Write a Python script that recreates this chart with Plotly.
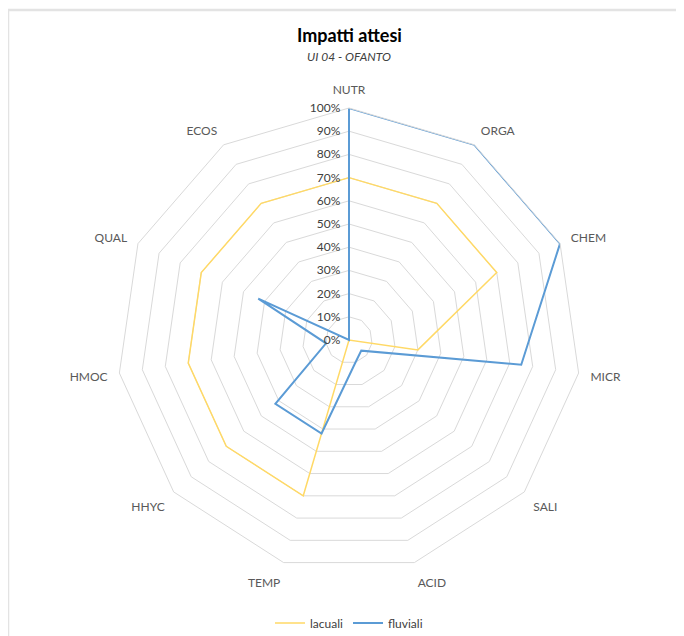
import plotly.graph_objects as go

categories = ["NUTR", "ORGA", "CHEM", "MICR", "SALI", "ACID", "TEMP", "HHYC", "HMOC", "QUAL", "ECOS"]
lacuali = [70, 70, 70, 30, 0, 0, 70, 70, 70, 70, 70]
fluviali = [100, 100, 100, 75, 7, 10, 42, 42, 10, 43, 0]
radial_ticks = [0, 10, 20, 30, 40, 50, 60, 70, 80, 90, 100]
radial_labels = ["0%", "10%", "20%", "30%", "40%", "50%", "60%", "70%", "80%", "90%", "100%"]

W, H = 684, 636
OFF = 8  # page body margin compensation
CX, CY, R = 349 - OFF, 340 - OFF, 232
L, T = CX - R, CY - R
Rm, B = W - (CX + R), H - (CY + R)
PW, PH = 2 * R, 2 * R

def px(x):
    return (x - OFF - L) / PW

def py(y):
    return (H - B - (y - OFF)) / PH

fig = go.Figure()
fig.add_trace(go.Scatterpolar(
    r=lacuali + lacuali[:1], theta=categories + categories[:1],
    mode="lines", name="lacuali",
    line=dict(color="#FFD966", width=1.5),
))
fig.add_trace(go.Scatterpolar(
    r=fluviali + fluviali[:1], theta=categories + categories[:1],
    mode="lines", name="fluviali",
    line=dict(color="#5B9BD5", width=2),
))

font_family = "Lato, 'Open Sans', sans-serif"

fig.update_layout(
    width=W, height=H,
    margin=dict(l=L, r=Rm, t=T, b=B, pad=0, autoexpand=False),
    paper_bgcolor="white",
    plot_bgcolor="white",
    font=dict(family=font_family, color="#595959", size=12),
    polar=dict(
        domain=dict(x=[0, 1], y=[0, 1]),
        bgcolor="white",
        gridshape="linear",
        angularaxis=dict(
            direction="clockwise", rotation=90,
            showgrid=False, showline=True, linecolor="#D9D9D9", linewidth=1,
            ticks="outside", ticklen=9, tickcolor="rgba(0,0,0,0)",
            tickfont=dict(size=12, color="#595959", family=font_family),
        ),
        radialaxis=dict(
            range=[0, 100], tickvals=radial_ticks, ticktext=radial_labels,
            tickangle=90,
            showline=False, gridcolor="#D9D9D9", gridwidth=1,
            angle=90, side="counterclockwise", ticks="outside", ticklen=4,
            tickcolor="rgba(0,0,0,0)",
            tickfont=dict(size=12, color="#404040", family=font_family),
        ),
    ),
    showlegend=True,
    legend=dict(
        orientation="h", x=px(349), xanchor="center", y=py(623), yanchor="middle",
        font=dict(size=12, color="#404040", family=font_family),
        bgcolor="rgba(0,0,0,0)", itemwidth=30,
    ),
    annotations=[
        dict(text="<b>Impatti attesi</b>", x=px(349), y=py(35), xref="paper", yref="paper",
             showarrow=False, xanchor="center", yanchor="middle",
             font=dict(size=18, color="#000000", family=font_family)),
        dict(text="<i>UI 04 - OFANTO</i>", x=px(349), y=py(56), xref="paper", yref="paper",
             showarrow=False, xanchor="center", yanchor="middle",
             font=dict(size=12, color="#404040", family=font_family)),
    ],
    shapes=[
        dict(type="line", xref="paper", yref="paper", x0=px(8), x1=px(W + 10), y0=py(10), y1=py(10),
             line=dict(color="#E3E3E3", width=2.5)),
        dict(type="line", xref="paper", yref="paper", x0=px(8), x1=px(8), y0=py(10), y1=py(H + 10),
             line=dict(color="#E3E3E3", width=2.5)),
    ],
)

fig.write_html("out.html")
